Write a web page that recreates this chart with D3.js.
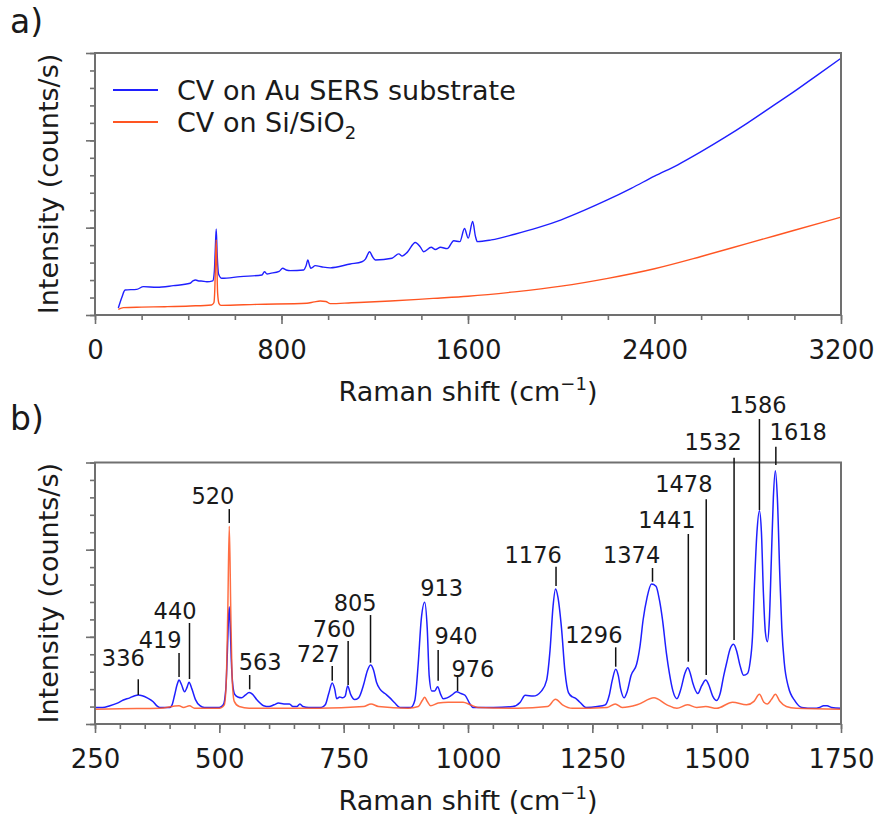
<!DOCTYPE html>
<html lang='en'>
	<head>
		<meta charset="utf-8">
		<title>CV Raman spectra</title>
		<script type="text/javascript" src="https://cdn.jsdelivr.net/npm/d3@7/dist/d3.min.js"></script>
		<style>
			body { margin: 0; background: #fff; }
			text { font-family: "DejaVu Sans", Verdana, sans-serif; fill: #1a1a1a; }
		</style>
	</head>
	<body>
		<div id="chart"></div>
		<script type="text/javascript">
			// ---- data (shift in cm-1, intensity in arbitrary units) ----
			var seriesNames = ["CV on Au SERS substrate", "CV on Si/SiO"];

			// panel a: full range, raw spectra
			var auFull = [[100,0.08],[115,0.2],[129,0.286],[179,0.294],[208,0.325],[265,0.317],[336,0.336],[408,0.363],[420,0.39],[432,0.40],[445,0.39],[455,0.39],[480,0.38],[505,0.39],[512,0.5],[516,0.75],[520,0.985],[524,0.7],[530,0.47],[544,0.42],[623,0.44],[716,0.458],[727,0.496],[738,0.47],[752,0.477],[790,0.5],[805,0.535],[820,0.515],[838,0.508],[895,0.515],[905,0.56],[913,0.63],[920,0.57],[926,0.535],[945,0.565],[975,0.55],[1009,0.54],[1095,0.584],[1145,0.61],[1160,0.64],[1178,0.725],[1190,0.67],[1203,0.63],[1274,0.65],[1303,0.70],[1318,0.676],[1340,0.72],[1374,0.83],[1395,0.78],[1410,0.725],[1442,0.775],[1460,0.75],[1482,0.775],[1511,0.76],[1539,0.85],[1565,0.84],[1585,0.99],[1601,0.88],[1620,1.07],[1632,0.9],[1640,0.84],[1700,0.86],[1800,0.925],[1900,1.0],[2000,1.09],[2100,1.2],[2200,1.32],[2300,1.45],[2400,1.59],[2500,1.72],[2600,1.87],[2700,2.03],[2800,2.2],[2900,2.38],[3000,2.56],[3100,2.75],[3200,2.94]];
			var siFull = [[100,0.065],[122,0.084],[200,0.09],[300,0.095],[408,0.103],[500,0.115],[510,0.14],[514,0.3],[517,0.6],[520,0.86],[523,0.55],[526,0.25],[532,0.13],[540,0.11],[694,0.122],[909,0.134],[940,0.15],[966,0.16],[990,0.155],[1009,0.13],[1100,0.14],[1267,0.16],[1450,0.19],[1600,0.215],[1800,0.265],[2000,0.33],[2200,0.42],[2400,0.53],[2600,0.67],[2800,0.82],[3000,0.97],[3200,1.12]];

			// panel b: 250-1750 region, baseline corrected
			var auZoom = [[250,0.19],[265,0.19],[280,0.21],[295,0.24],[307,0.275],[320,0.30],[330,0.325],[337,0.333],[345,0.325],[355,0.3],[367,0.256],[374,0.21],[380,0.19],[400,0.19],[405,0.22],[410,0.33],[415,0.45],[419,0.505],[424,0.45],[430,0.37],[435,0.42],[439,0.478],[445,0.4],[452,0.28],[461,0.21],[470,0.19],[500,0.19],[508,0.22],[513,0.4],[516,0.8],[518,1.15],[520,1.346],[522,1.1],[524,0.75],[527,0.45],[531,0.34],[537,0.31],[545,0.3],[552,0.33],[560,0.36],[567,0.34],[575,0.28],[589,0.21],[600,0.2],[610,0.22],[619,0.24],[630,0.23],[641,0.23],[648,0.2],[656,0.2],[662,0.23],[668,0.2],[680,0.19],[705,0.19],[713,0.22],[720,0.35],[727,0.47],[732,0.4],[736,0.29],[742,0.31],[748,0.3],[753,0.32],[758,0.436],[764,0.34],[772,0.28],[780,0.3],[790,0.45],[797,0.6],[804,0.677],[810,0.62],[816,0.48],[823,0.4],[833,0.35],[843,0.3],[853,0.24],[863,0.19],[885,0.19],[893,0.27],[900,0.7],[906,1.2],[913,1.396],[918,1.1],[922,0.55],[927,0.38],[933,0.38],[939,0.427],[945,0.34],[950,0.29],[958,0.3],[967,0.33],[977,0.37],[986,0.35],[994,0.33],[1004,0.23],[1010,0.19],[1051,0.19],[1090,0.2],[1105,0.25],[1115,0.33],[1131,0.32],[1148,0.38],[1158,0.5],[1165,0.85],[1171,1.35],[1176,1.549],[1181,1.45],[1188,1.1],[1195,0.6],[1202,0.36],[1210,0.31],[1215,0.3],[1225,0.25],[1237,0.19],[1260,0.2],[1276,0.22],[1284,0.33],[1290,0.5],[1297,0.627],[1302,0.56],[1307,0.4],[1314,0.3],[1320,0.37],[1328,0.56],[1339,0.685],[1346,0.9],[1352,1.19],[1360,1.45],[1369,1.606],[1378,1.58],[1385,1.42],[1391,1.2],[1399,0.81],[1405,0.58],[1412,0.38],[1420,0.29],[1428,0.4],[1436,0.58],[1442,0.646],[1447,0.58],[1452,0.47],[1462,0.35],[1470,0.44],[1478,0.505],[1484,0.45],[1492,0.32],[1500,0.27],[1507,0.35],[1514,0.55],[1520,0.7],[1527,0.86],[1534,0.914],[1540,0.84],[1547,0.67],[1554,0.56],[1562,0.58],[1567,0.7],[1572,1.0],[1576,1.6],[1581,2.2],[1586,2.447],[1590,2.2],[1594,1.5],[1598,1.05],[1602,0.944],[1606,1.2],[1610,1.9],[1614,2.6],[1618,2.906],[1622,2.6],[1627,1.7],[1631,1.1],[1636,0.7],[1644,0.43],[1658,0.26],[1671,0.19],[1695,0.18],[1707,0.19],[1715,0.21],[1722,0.21],[1731,0.19],[1750,0.18]];
			var siZoom = [[250,0.17],[300,0.175],[380,0.18],[419,0.21],[428,0.19],[440,0.21],[450,0.18],[500,0.18],[510,0.22],[514,0.5],[517,1.3],[520,2.27],[523,1.3],[526,0.5],[530,0.26],[540,0.2],[560,0.18],[700,0.18],[790,0.2],[805,0.23],[820,0.2],[880,0.18],[900,0.2],[908,0.27],[913,0.306],[918,0.26],[925,0.21],[940,0.24],[960,0.25],[990,0.25],[1005,0.22],[1020,0.19],[1100,0.18],[1160,0.2],[1176,0.283],[1190,0.22],[1210,0.18],[1280,0.19],[1296,0.23],[1310,0.19],[1340,0.22],[1374,0.3],[1400,0.22],[1420,0.18],[1441,0.22],[1460,0.19],[1478,0.2],[1500,0.18],[1532,0.25],[1560,0.22],[1575,0.26],[1586,0.34],[1595,0.25],[1602,0.23],[1610,0.28],[1618,0.34],[1627,0.26],[1640,0.2],[1660,0.18],[1750,0.17]];

			// peak annotations of panel b (data units): label, line x, text x, text y, line top, line bottom
			var peakLabels = ["336","419","440","520","563","727","760","805","913","940","976","1176","1296","1374","1441","1478","1532","1586","1618"];
			var peakLineX  = [337,419,440,520,561,727,759,804,null,940,979,1177,1297,1371,1443,1479,1535,1586,1619];
			var peakTextX  = [307,381,411,487,582,699,731,773,947,976,1010,1131,1253,1329,1400,1434,1493,1583,1664];
			var peakTextY  = [0.754,0.964,1.30,2.616,0.717,0.803,1.09,1.394,1.56,1.01,0.637,1.942,1.021,1.942,2.34,2.757,3.239,3.665,3.353];
			var peakLineTop = [0.513,0.815,1.159,2.466,0.562,0.665,0.952,1.25,null,0.849,0.539,1.805,0.88,1.79,2.18,2.578,3.055,3.499,3.181];
			var peakLineBot = [0.333,0.539,0.516,2.306,0.398,0.497,0.447,0.703,null,0.497,0.379,1.583,0.657,1.632,0.715,0.562,0.964,2.455,2.971];

			var xTicksA = [0, 800, 1600, 2400, 3200];
			var xTicksB = [250, 500, 750, 1000, 1250, 1500, 1750];
			var yTicks = [0, 1, 2, 3];

			var w = 877, h = 816;
			var left = 95, right = 841;
			var blue = "#1f1fff", orange = "#ff5522", frameCol = "#707070";

			var svg = d3.select("#chart").append("svg").attr("width", w).attr("height", h);

			var line = function(xs, ys) {
				return d3.line()
					.x(function(d) { return xs(d[0]); })
					.y(function(d) { return ys(d[1]); })
					.curve(d3.curveMonotoneX);
			};

			var drawAxes = function(g, xs, ys, xTicks, xMinorStep, top, bottom) {
				var xMinor = d3.range(xs.domain()[0], xs.domain()[1] + 0.001, xMinorStep);
				var yMinor = d3.range(0, 3.001, 0.2);

				g.append("g").attr("transform", "translate(0," + bottom + ")")
					.call(d3.axisBottom(xs).tickValues(xMinor).tickSize(5).tickSizeOuter(0).tickFormat(""));
				var xa = g.append("g").attr("transform", "translate(0," + bottom + ")")
					.call(d3.axisBottom(xs).tickValues(xTicks).tickSize(9).tickSizeOuter(0).tickFormat(d3.format("d")));
				xa.selectAll("text").attr("dy", null).attr("y", 44)
					.style("font-size", "26px").style("fill", "#1a1a1a");

				g.append("g").attr("transform", "translate(" + left + ",0)")
					.call(d3.axisLeft(ys).tickValues(yMinor).tickSize(5).tickSizeOuter(0).tickFormat(""));
				g.append("g").attr("transform", "translate(" + left + ",0)")
					.call(d3.axisLeft(ys).tickValues(yTicks).tickSize(9).tickSizeOuter(0).tickFormat(""));

				g.selectAll(".domain").remove();
				g.selectAll(".tick line").attr("stroke", frameCol).attr("stroke-width", 1.6);

				g.append("rect")
					.attr("x", left).attr("y", top)
					.attr("width", right - left).attr("height", bottom - top)
					.attr("fill", "none").attr("stroke", frameCol).attr("stroke-width", 2);

				var lab = g.append("text")
					.attr("x", (left + right) / 2).attr("y", bottom + 86)
					.attr("text-anchor", "middle").style("font-size", "27px");
				lab.append("tspan").text("Raman shift (cm");
				lab.append("tspan").text("\u22121").style("font-size", "18px").attr("dy", -11);
				lab.append("tspan").text(")").attr("dy", 11);

				g.append("text")
					.attr("transform", "translate(58," + ((top + bottom) / 2) + ") rotate(-90)")
					.attr("text-anchor", "middle").style("font-size", "27px")
					.text("Intensity (counts/s)");
			};

			// ---------- panel a ----------
			var xA = d3.scaleLinear().domain([0, 3200]).range([left, right]);
			var yA = d3.scaleLinear().domain([0, 3]).range([315, 53]);
			var gA = svg.append("g");

			gA.append("path").datum(auFull).attr("d", line(xA, yA))
				.attr("fill", "none").attr("stroke", blue).attr("stroke-width", 1.4);
			gA.append("path").datum(siFull).attr("d", line(xA, yA))
				.attr("fill", "none").attr("stroke", orange).attr("stroke-width", 1.4);

			drawAxes(gA, xA, yA, xTicksA, 200, 53, 315);

			svg.append("text").attr("x", 10).attr("y", 33).style("font-size", "33px").text("a)");

			// legend
			var legCols = [blue, orange];
			var legend = gA.selectAll(".leg").data(seriesNames).enter().append("g").attr("class", "leg");
			legend.append("line")
				.attr("x1", 113).attr("x2", 158)
				.attr("y1", function(d, i) { return 90 + i * 32; })
				.attr("y2", function(d, i) { return 90 + i * 32; })
				.attr("stroke", function(d, i) { return legCols[i]; })
				.attr("stroke-width", 2.2);
			var legText = legend.append("text")
				.attr("x", 177)
				.attr("y", function(d, i) { return 99.5 + i * 32; })
				.style("font-size", "27px")
				.text(function(d) { return d; });
			legText.filter(function(d, i) { return i === 1; })
				.append("tspan").text("2").style("font-size", "18px").attr("dy", 7);

			// ---------- panel b ----------
			var xB = d3.scaleLinear().domain([250, 1750]).range([left, right]);
			var yB = d3.scaleLinear().domain([0, 3]).range([724, 462.5]);
			var gB = svg.append("g");

			gB.append("path").datum(auZoom).attr("d", line(xB, yB))
				.attr("fill", "none").attr("stroke", blue).attr("stroke-width", 1.5);
			gB.append("path").datum(siZoom).attr("d", line(xB, yB))
				.attr("fill", "none").attr("stroke", orange).attr("stroke-width", 1.5)
				.attr("stroke-opacity", 0.85);

			drawAxes(gB, xB, yB, xTicksB, 50, 462.5, 724);

			svg.append("text").attr("x", 10).attr("y", 430).style("font-size", "33px").text("b)");

			// peak labels
			var ann = gB.selectAll(".ann").data(peakLabels).enter().append("g").attr("class", "ann");
			ann.append("text")
				.attr("x", function(d, i) { return xB(peakTextX[i]); })
				.attr("y", function(d, i) { return yB(peakTextY[i]) + 8.2; })
				.attr("text-anchor", "middle")
				.style("font-size", "22.5px")
				.text(function(d) { return d; });
			ann.filter(function(d, i) { return peakLineX[i] !== null; })
				.append("line")
				.attr("x1", function(d) { return xB(peakLineX[peakLabels.indexOf(d)]); })
				.attr("x2", function(d) { return xB(peakLineX[peakLabels.indexOf(d)]); })
				.attr("y1", function(d) { return yB(peakLineTop[peakLabels.indexOf(d)]); })
				.attr("y2", function(d) { return yB(peakLineBot[peakLabels.indexOf(d)]); })
				.attr("stroke", "#111").attr("stroke-width", 1.5);
		</script>
	</body>
</html>
